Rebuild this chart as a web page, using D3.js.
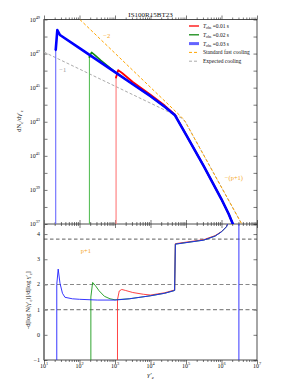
<!DOCTYPE html>
<html>
<head>
<meta charset="utf-8">
<script src="https://cdn.jsdelivr.net/npm/d3@7"></script>
<style>
  body { margin: 0; background: #fff; }
  text { font-family: "Liberation Serif", "DejaVu Serif", serif; fill: #111; }
</style>
</head>
<body>
<div id="chart"></div>
<script>
// log10(gamma'_e), log10(dN/dgamma)
var tailTop = [[4.0, 44.5], [4.4, 43.88], [4.69, 43.38], [5.0, 42.25], [5.5, 40.4], [6.0, 38.45], [6.2, 37.6], [6.32, 37.0], [6.4, 36.6]];
var blueTop = [[1.33, 37], [1.33, 47.2], [1.375, 48.38], [1.45, 48.09], [2.0, 47.32], [2.5, 46.62], [3.0, 45.91], [3.5, 45.2]].concat(tailTop);
var greenTop = [[2.28, 37], [2.28, 46.8], [2.34, 47.07], [2.45, 46.88], [2.6, 46.6], [2.8, 46.26], [3.0, 45.93], [3.5, 45.21]].concat(tailTop);
var redTop = [[3.03, 37], [3.03, 45.6], [3.09, 46.03], [3.2, 45.86], [3.5, 45.33], [4.0, 44.58], [4.4, 43.95], [4.69, 43.41]].concat(tailTop.slice(3));
var fastCooling = [[2.01, 49], [4.85, 43.32], [4.92, 43.17], [4.98, 43.0], [6.57, 37.0]];
var expectedCooling = [[1.0, 47.09], [4.9, 43.19], [4.98, 43.0], [6.57, 37.0]];

// local spectral index
var tailBot = [[3.4, 1.43], [4.0, 1.55], [4.4, 1.65], [4.68, 1.76], [4.7, 3.6], [5.0, 3.66], [5.5, 3.76], [5.82, 3.92], [6.0, 4.09], [6.14, 4.29], [6.2, 4.5]];
var blueBot = [[1.36, -1], [1.36, 2.0], [1.40, 2.61], [1.45, 2.05], [1.52, 1.65], [1.59, 1.49], [1.8, 1.43], [2.0, 1.41], [2.5, 1.38], [3.0, 1.38]]
    .concat(tailBot, [[6.3, 5.2], [6.49, 5.2], [6.49, -1]]);
var greenBot = [[2.32, -1], [2.32, 1.5], [2.37, 2.08], [2.45, 1.95], [2.55, 1.75], [2.7, 1.53], [2.86, 1.43], [3.0, 1.39]].concat(tailBot);
var redBot = [[3.07, -1], [3.07, 1.4], [3.12, 1.74], [3.19, 1.8], [3.3, 1.76], [3.5, 1.68], [3.8, 1.61], [4.0, 1.58], [4.4, 1.67], [4.68, 1.78],
    [4.7, 3.62], [5.0, 3.68], [5.5, 3.78], [5.82, 3.94], [6.0, 4.1], [6.14, 4.3], [6.2, 4.5]];
var refLevels = [1, 2];
var pPlusOne = 3.8;

var xDecades = [1, 2, 3, 4, 5, 6, 7];
var yTopLabels = [37, 39, 41, 43, 45, 47, 49];
var yTopTicks = [37, 38, 39, 40, 41, 42, 43, 44, 45, 46, 47, 48, 49];
var yBotTicks = [-1, 0, 1, 2, 3, 4];
var legendNames = ["0.01", "0.02", "0.03", "Standard fast cooling", "Expected cooling"];

var W = 294, H = 392;
var L = 44, R = 257, T = 19.5, M = 224, B = 360;

var svg = d3.select("#chart").append("svg").attr("width", W).attr("height", H);

var x = d3.scaleLinear().domain([1, 7]).range([L, R]);
var yTop = d3.scaleLinear().domain([37, 49]).range([M, T]);
var yBot = d3.scaleLinear().domain([-1, 4.4]).range([B, M]);

var minorX = [];
xDecades.slice(0, -1).forEach(function (n) {
    for (var k = 2; k < 10; k++) minorX.push(n + Math.log10(k));
});

var defs = svg.append("defs");
defs.append("clipPath").attr("id", "clipTop").append("rect")
    .attr("x", L).attr("y", T).attr("width", R - L).attr("height", M - T);
defs.append("clipPath").attr("id", "clipBot").append("rect")
    .attr("x", L).attr("y", M).attr("width", R - L).attr("height", B - M);

function ticks(g, axis) {
    g.call(axis);
    g.select(".domain").remove();
    g.selectAll("line").attr("stroke", "#222").attr("stroke-width", 0.6);
}

// x ticks on every horizontal spine
[[T, 1], [M, -1], [M, 1], [B, -1]].forEach(function (p) {
    var maj = p[1] > 0 ? d3.axisBottom(x) : d3.axisTop(x);
    var mnr = p[1] > 0 ? d3.axisBottom(x) : d3.axisTop(x);
    svg.append("g").attr("transform", "translate(0," + p[0] + ")")
        .call(ticks, maj.tickValues(xDecades).tickSize(-4).tickFormat(""));
    svg.append("g").attr("transform", "translate(0," + p[0] + ")")
        .call(ticks, mnr.tickValues(minorX).tickSize(-2).tickFormat(""));
});
// y ticks
[[L, d3.axisLeft], [R, d3.axisRight]].forEach(function (p) {
    svg.append("g").attr("transform", "translate(" + p[0] + ",0)")
        .call(ticks, p[1](yTop).tickValues(yTopTicks).tickSize(-3.5).tickFormat(""));
    svg.append("g").attr("transform", "translate(" + p[0] + ",0)")
        .call(ticks, p[1](yBot).tickValues(yBotTicks).tickSize(-3.5).tickFormat(""));
});

// spines
svg.append("rect").attr("x", L).attr("y", T).attr("width", R - L).attr("height", B - T)
    .attr("fill", "none").attr("stroke", "#222").attr("stroke-width", 0.8);
svg.append("line").attr("x1", L).attr("x2", R).attr("y1", M).attr("y2", M)
    .attr("stroke", "#222").attr("stroke-width", 0.8);
svg.append("line").attr("x1", L).attr("x2", L).attr("y1", T).attr("y2", B)
    .attr("stroke", "#777").attr("stroke-width", 1.4);

// tick labels
function pow10(g, base, exp) {
    g.append("tspan").text(base);
    g.append("tspan").attr("dy", -2.6).style("font-size", "4.3px").text(exp);
}
yTopLabels.forEach(function (v) {
    var t = svg.append("text").attr("x", L - 4).attr("y", yTop(v) + 2)
        .attr("text-anchor", "end").style("font-size", "6px");
    pow10(t, "10", v);
});
yBotTicks.forEach(function (v) {
    svg.append("text").attr("x", L - 4).attr("y", yBot(v) + 2)
        .attr("text-anchor", "end").style("font-size", "6px").text(v < 0 ? "\u22121" : v);
});
xDecades.forEach(function (v) {
    var t = svg.append("text").attr("x", x(v)).attr("y", B + 8)
        .attr("text-anchor", "middle").style("font-size", "6px");
    pow10(t, "10", v);
});

// axis titles
svg.append("text").attr("x", (L + R) / 2).attr("y", 17).attr("text-anchor", "middle")
    .style("font-size", "7px").text("IS100R15BT23");
var xl = svg.append("text").attr("x", (L + R) / 2).attr("y", 377).attr("text-anchor", "middle")
    .style("font-size", "7px").style("font-style", "italic");
xl.append("tspan").text("\u03b3\u2032");
xl.append("tspan").attr("dy", 1.5).style("font-size", "4.5px").text("e");

var yl1 = svg.append("text").attr("transform", "translate(21,121) rotate(-90)")
    .attr("text-anchor", "middle").style("font-size", "6.5px");
yl1.append("tspan").text("dN");
yl1.append("tspan").attr("dy", 1.5).style("font-size", "4.5px").text("e");
yl1.append("tspan").attr("dy", -1.5).text("/d\u03b3\u2032");
yl1.append("tspan").attr("dy", 1.5).style("font-size", "4.5px").text("e");

var yl2 = svg.append("text").attr("transform", "translate(30,300) rotate(-90)")
    .attr("text-anchor", "middle").style("font-size", "6.2px");
yl2.append("tspan").text("-d[log N(\u03b3\u2032");
yl2.append("tspan").attr("dy", 1.5).style("font-size", "4.3px").text("e");
yl2.append("tspan").attr("dy", -1.5).text(")]/d[log \u03b3\u2032");
yl2.append("tspan").attr("dy", 1.5).style("font-size", "4.3px").text("e");
yl2.append("tspan").attr("dy", -1.5).text("]");

// top panel
var topG = svg.append("g").attr("clip-path", "url(#clipTop)");
var lineTop = d3.line().x(function (d) { return x(d[0]); }).y(function (d) { return yTop(d[1]); });
var lineBot = d3.line().x(function (d) { return x(d[0]); }).y(function (d) { return yBot(d[1]); });

topG.append("path").attr("d", lineTop(expectedCooling)).attr("fill", "none")
    .attr("stroke", "#aaa").attr("stroke-width", 1).attr("stroke-dasharray", "3,2");
topG.append("path").attr("d", lineTop(fastCooling)).attr("fill", "none")
    .attr("stroke", "#ffa500").attr("stroke-width", 1).attr("stroke-dasharray", "3,2");

[[redTop, "#ff0000", 1.8, "#ff7a7a"], [greenTop, "#138a13", 1.6, "#5cc05c"], [blueTop, "#0000ff", 2.6, "#6a6aff"]].forEach(function (s) {
    topG.append("path").attr("d", lineTop(s[0].slice(0, 2))).attr("fill", "none")
        .attr("stroke", s[3]).attr("stroke-width", 1.1);
    topG.append("path").attr("d", lineTop(s[0].slice(1))).attr("fill", "none")
        .attr("stroke", s[1]).attr("stroke-width", s[2]).attr("stroke-linejoin", "round");
    topG.selectAll(null).data(s[0].slice(1, 2)).join("circle")
        .attr("cx", function (d) { return x(d[0]); }).attr("cy", function (d) { return yTop(d[1]); })
        .attr("r", 1).attr("fill", s[1]);
});

// bottom panel
var botG = svg.append("g").attr("clip-path", "url(#clipBot)");
refLevels.forEach(function (v) {
    botG.append("line").attr("x1", L).attr("x2", R).attr("y1", yBot(v)).attr("y2", yBot(v))
        .attr("stroke", "#888").attr("stroke-width", 1.1).attr("stroke-dasharray", "4,2.5");
});
botG.append("line").attr("x1", L).attr("x2", R).attr("y1", yBot(pPlusOne)).attr("y2", yBot(pPlusOne))
    .attr("stroke", "#333").attr("stroke-width", 0.8).attr("stroke-dasharray", "3.5,2.5");

[[redBot, "#ff3030"], [greenBot, "#1a9a1a"], [blueBot, "#2020ff"]].forEach(function (s) {
    botG.append("path").attr("d", lineBot(s[0])).attr("fill", "none")
        .attr("stroke", s[1]).attr("stroke-width", 0.9).attr("stroke-linejoin", "round");
});

// annotations
function note(txt, lx, ly, col) {
    svg.append("text").attr("x", lx).attr("y", ly).attr("text-anchor", "middle")
        .style("font-size", "6.5px").style("fill", col).text(txt);
}
note("\u22122", x(2.77), yTop(47.9), "#f5a623");
note("\u22121", x(1.53), yTop(45.9), "#999");
note("\u2212(p+1)", x(6.35), yTop(39.6), "#f5a623");
note("p+1", x(2.18), yBot(3.25), "#f5a623");

// legend
var lg = svg.append("g");
var legendStyles = [["#ff0000", 1.3, null, 1], ["#138a13", 1.3, null, 1], ["#3030ff", 3, null, 0.75],
    ["#ffa500", 1, "3,2", 1], ["#aaa", 1, "3,2", 1]];
legendNames.forEach(function (name, i) {
    var yy = 26 + i * 8.8;
    var st = legendStyles[i];
    lg.append("line").attr("x1", 189).attr("x2", 199).attr("y1", yy).attr("y2", yy)
        .attr("stroke", st[0]).attr("stroke-width", st[1]).attr("stroke-dasharray", st[2]).attr("opacity", st[3]);
    var t = lg.append("text").attr("x", 203).attr("y", yy + 2).style("font-size", "5.5px");
    if (i < 3) {
        t.append("tspan").style("font-style", "italic").text("T");
        t.append("tspan").attr("dy", 1.3).style("font-size", "3.8px").text("obs");
        t.append("tspan").attr("dy", -1.3).text(" =" + name + " s");
    } else {
        t.text(name);
    }
});
</script>
</body>
</html>
